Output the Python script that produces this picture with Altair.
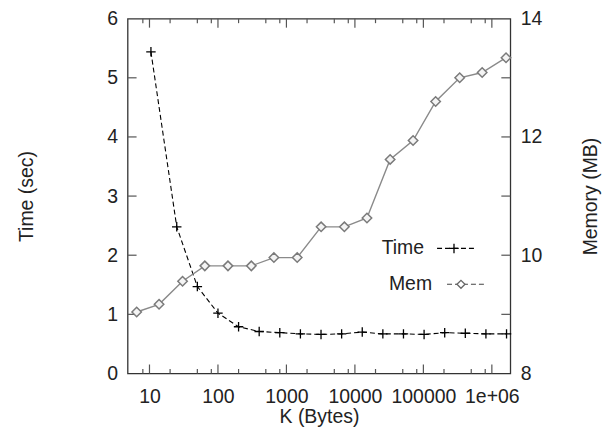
import altair as alt
import pandas as pd

# ---- data ----
time_k = [10.5, 25, 50, 100, 200, 400, 800, 1600, 3200, 6400, 12800, 25600,
          51200, 102400, 204800, 409600, 819200, 1638400]
time_sec = [5.44, 2.48, 1.47, 1.02, 0.79, 0.71, 0.69, 0.67, 0.66, 0.67, 0.70,
            0.67, 0.67, 0.66, 0.69, 0.68, 0.67, 0.67]
mem_k = [6.5, 13.8, 30.4, 64.3, 140, 307, 656, 1437, 3210, 7020, 15000,
         32700, 70700, 151000, 339000, 722000, 1610000]
mem_mb = [9.04, 9.17, 9.56, 9.82, 9.82, 9.82, 9.96, 9.96, 10.48, 10.48, 10.63,
          11.62, 11.94, 12.6, 13.0, 13.09, 13.34]

x_major = [10, 100, 1000, 10000, 100000, 1000000]
x_minor = [8, 20, 50, 80, 200, 500, 800, 2000, 5000, 8000, 20000, 50000,
           80000, 200000, 500000, 800000]
time_ticks = [0, 1, 2, 3, 4, 5, 6]
time_inner_ticks = [1, 2, 3, 4, 5]
mem_labels = [8, 10, 12, 14]
mem_inner_ticks = [9, 10, 11, 12, 13]
legend_labels = ["Time", "Mem"]

W, H = 384, 356
FONT = "Liberation Sans"
FS = 19.5
TICK = "#555"

time_df = pd.DataFrame({"k": time_k, "t": time_sec})
mem_df = pd.DataFrame({"k": mem_k, "m": mem_mb})

xs = alt.Scale(type="log", domain=[4.79, 1.86e6], nice=False)
ys_t = alt.Scale(domain=[0, 6], nice=False, zero=False)
ys_m = alt.Scale(domain=[8, 14], nice=False, zero=False)

common = dict(grid=False, ticks=False, domain=False, labelFont=FONT, labelFontSize=FS,
              labelColor="#222", titleFont=FONT, titleFontSize=FS, titleFontWeight="normal",
              titleColor="#222")

x_axis = alt.Axis(values=x_major, labelExpr="datum.value >= 1000000 ? '1e+06' : format(datum.value, 'd')",
                  title="K (Bytes)", labelPadding=14, titlePadding=2, **common)
yt_axis = alt.Axis(values=time_ticks, title="Time (sec)", orient="left", labelPadding=10,
                   titleX=-101, titleY=H / 2, titleAngle=270, titleBaseline="middle",
                   titleAlign="center", **common)
ym_axis = alt.Axis(values=mem_labels, title="Memory (MB)", orient="right", labelPadding=10,
                   titleX=80, titleY=H / 2, titleAngle=270, titleBaseline="middle",
                   titleAlign="center", **common)

plus_shape = "M-1,0L1,0M0,-1L0,1"

def X(field):
    return alt.X(field, scale=xs, axis=x_axis)

time_line = alt.Chart(time_df).mark_line(color="black", strokeWidth=1.1, strokeDash=[5, 3]).encode(
    x=X("k:Q"),
    y=alt.Y("t:Q", scale=ys_t, axis=yt_axis),
)
time_pts = alt.Chart(time_df).mark_point(shape=plus_shape, size=90, filled=False, stroke="black",
                                         strokeWidth=1.3, opacity=1).encode(
    x=X("k:Q"),
    y=alt.Y("t:Q", scale=ys_t, axis=None),
)
mem_line = alt.Chart(mem_df).mark_line(color="#8a8a8a", strokeWidth=1.4).encode(
    x=X("k:Q"),
    y=alt.Y("m:Q", scale=ys_m, axis=ym_axis),
)
mem_pts = alt.Chart(mem_df).mark_point(shape="diamond", size=90, filled=True, fill="#f4f4f4",
                                       stroke="#7a7a7a", strokeWidth=1.5, opacity=1).encode(
    x=X("k:Q"),
    y=alt.Y("m:Q", scale=ys_m, axis=None),
)

xmaj_df = pd.DataFrame({"k": x_major})
xmin_df = pd.DataFrame({"k": x_minor})

def xticks(df, length):
    bot = alt.Chart(df).mark_rule(color=TICK, strokeWidth=1.2).encode(
        x=X("k:Q"), y=alt.value(H), y2=alt.value(H - length))
    top = alt.Chart(df).mark_rule(color=TICK, strokeWidth=1.2).encode(
        x=X("k:Q"), y=alt.value(0), y2=alt.value(length))
    return [bot, top]

left_ticks = alt.Chart(pd.DataFrame({"v": time_inner_ticks})).mark_rule(color=TICK, strokeWidth=1.2).encode(
    y=alt.Y("v:Q", scale=ys_t, axis=None), x=alt.value(0), x2=alt.value(9))
right_ticks = alt.Chart(pd.DataFrame({"v": mem_inner_ticks})).mark_rule(color=TICK, strokeWidth=1.2).encode(
    y=alt.Y("v:Q", scale=ys_m, axis=None), x=alt.value(W), x2=alt.value(W - 9))

# legend (drawn by hand, gnuplot style)
one = pd.DataFrame({"a": [0]})
leg_t = alt.Chart(pd.DataFrame({"s": [legend_labels[0]]})).mark_text(
    align="right", baseline="middle", font=FONT, fontSize=FS, color="#222").encode(
    text="s:N", x=alt.value(297.5), y=alt.value(230.5))
leg_t_line = alt.Chart(one).mark_rule(color="black", strokeWidth=1.1, strokeDash=[5, 3]).encode(
    x=alt.value(310.5), x2=alt.value(349.5), y=alt.value(230.5))
leg_t_pt = alt.Chart(one).mark_point(shape=plus_shape, size=90, filled=False, stroke="black",
                                     strokeWidth=1.3, opacity=1).encode(
    x=alt.value(327.5), y=alt.value(230.5))
leg_m = alt.Chart(pd.DataFrame({"s": [legend_labels[1]]})).mark_text(
    align="right", baseline="middle", font=FONT, fontSize=FS, color="#222").encode(
    text="s:N", x=alt.value(305.5), y=alt.value(266.5))
leg_m_line = alt.Chart(one).mark_rule(color="#444", strokeWidth=1.1, strokeDash=[5, 3]).encode(
    x=alt.value(320.5), x2=alt.value(359.5), y=alt.value(266.5))
leg_m_pt = alt.Chart(one).mark_point(shape="diamond", size=64, filled=True, fill="white",
                                     stroke="#666", strokeWidth=1.3, opacity=1).encode(
    x=alt.value(334.5), y=alt.value(266.5))

chart = alt.layer(
    time_line, mem_line, *xticks(xmaj_df, 9), *xticks(xmin_df, 4.5), left_ticks, right_ticks,
    mem_pts, time_pts, leg_t, leg_t_line, leg_t_pt, leg_m, leg_m_line, leg_m_pt,
).resolve_scale(y="independent").properties(
    width=W, height=H,
    autosize=alt.AutoSizeParams(type="none"),
    padding={"left": 120, "top": 10, "right": 92, "bottom": 56},
    background="white",
).configure_view(stroke="#333", strokeWidth=1.3)

chart.save("out.html", embed_options={"renderer": "svg", "actions": False})
